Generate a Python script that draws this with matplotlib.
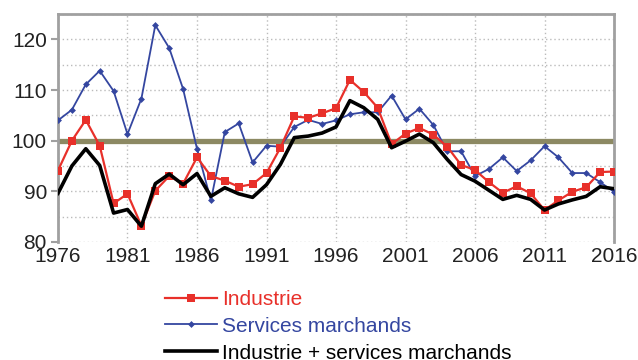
import matplotlib
matplotlib.use('Agg')
import matplotlib.pyplot as plt

plt.rcParams['font.family'] = ['Liberation Sans', 'DejaVu Sans']

years = list(range(1976, 2017))

industrie = [94.1, 100.0, 104.1, 99.0, 87.6, 89.5, 83.2, 90.1, 93.0, 91.5,
             96.7, 93.0, 92.1, 90.9, 91.4, 93.6, 98.6, 104.8, 104.5, 105.4,
             106.4, 112.0, 109.6, 106.5, 99.3, 101.4, 102.5, 101.2, 98.8, 95.2,
             94.2, 91.8, 89.7, 91.0, 89.6, 86.3, 88.2, 89.9, 90.8, 93.8, 93.9]

services = [104.0, 106.1, 111.1, 113.8, 109.8, 101.3, 108.3, 122.8, 118.3, 110.2,
            98.4, 88.2, 101.7, 103.4, 95.7, 99.0, 98.8, 102.7, 104.1, 103.3,
            104.0, 105.2, 105.6, 105.6, 108.9, 104.2, 106.3, 103.1, 97.9, 97.9,
            93.0, 94.4, 96.7, 94.0, 96.1, 98.9, 96.7, 93.6, 93.6, 91.8, 89.9]

ensemble = [89.6, 95.0, 98.4, 95.1, 85.7, 86.4, 83.1, 91.5, 93.4, 91.3,
            93.5, 89.0, 90.7, 89.5, 88.8, 91.3, 95.3, 100.6, 100.9, 101.5,
            102.7, 107.9, 106.5, 104.2, 98.6, 99.9, 101.3, 99.6, 96.3, 93.3,
            92.0, 90.2, 88.4, 89.2, 88.4, 86.3, 87.5, 88.3, 89.0, 90.9, 90.5]

xticks = [1976, 1981, 1986, 1991, 1996, 2001, 2006, 2011, 2016]

red = '#e8302a'
blue = '#3446a0'
olive = '#8c8963'
frame = '#a0a0a0'

fig = plt.figure(figsize=(6.38, 3.6), dpi=100)
ax = fig.add_axes([0.0909, 0.328, 0.8715, 0.633])

# reference level
ax.axhline(100, color=olive, lw=3.8, zorder=2)

l_ind, = ax.plot(years, industrie, color=red, lw=1.6, marker='s', ms=6,
                 markeredgewidth=0, zorder=4)
l_srv, = ax.plot(years, services, color=blue, lw=1.3, marker='D', ms=3.5,
                 markeredgewidth=0, zorder=3)
l_ens, = ax.plot(years, ensemble, color='black', lw=2.6, zorder=5)

ax.set_xlim(1976, 2016)
ax.set_ylim(80, 125)
ax.set_xticks(xticks)
ax.set_yticks([80, 90, 100, 110, 120])
ax.set_yticks(range(80, 126, 5), minor=True)
ax.tick_params(axis='both', labelsize=15, colors='#222222')
ax.tick_params(axis='y', which='major', length=5, color=frame, width=1.5, pad=3)
ax.tick_params(axis='y', which='minor', length=0)
ax.tick_params(axis='x', length=0, pad=4)
ax.grid(True, which='both', color='#bbbbbb', ls=(0, (1, 2)), lw=1)
ax.set_axisbelow(True)

for side in ['top', 'left', 'right']:
    ax.spines[side].set_color(frame)
    ax.spines[side].set_linewidth(2)
ax.spines['bottom'].set_visible(False)

leg = fig.legend([l_ind, l_srv, l_ens],
                 ['Industrie', 'Services marchands', 'Industrie + services marchands'],
                 loc='upper left', bbox_to_anchor=(0.258, 0.195), frameon=False,
                 fontsize=15, handlelength=2.5, handletextpad=0.25,
                 labelspacing=0.38, borderpad=0, borderaxespad=0)
for txt, c in zip(leg.get_texts(), [red, blue, 'black']):
    txt.set_color(c)

fig.savefig('out.png', dpi=100)
